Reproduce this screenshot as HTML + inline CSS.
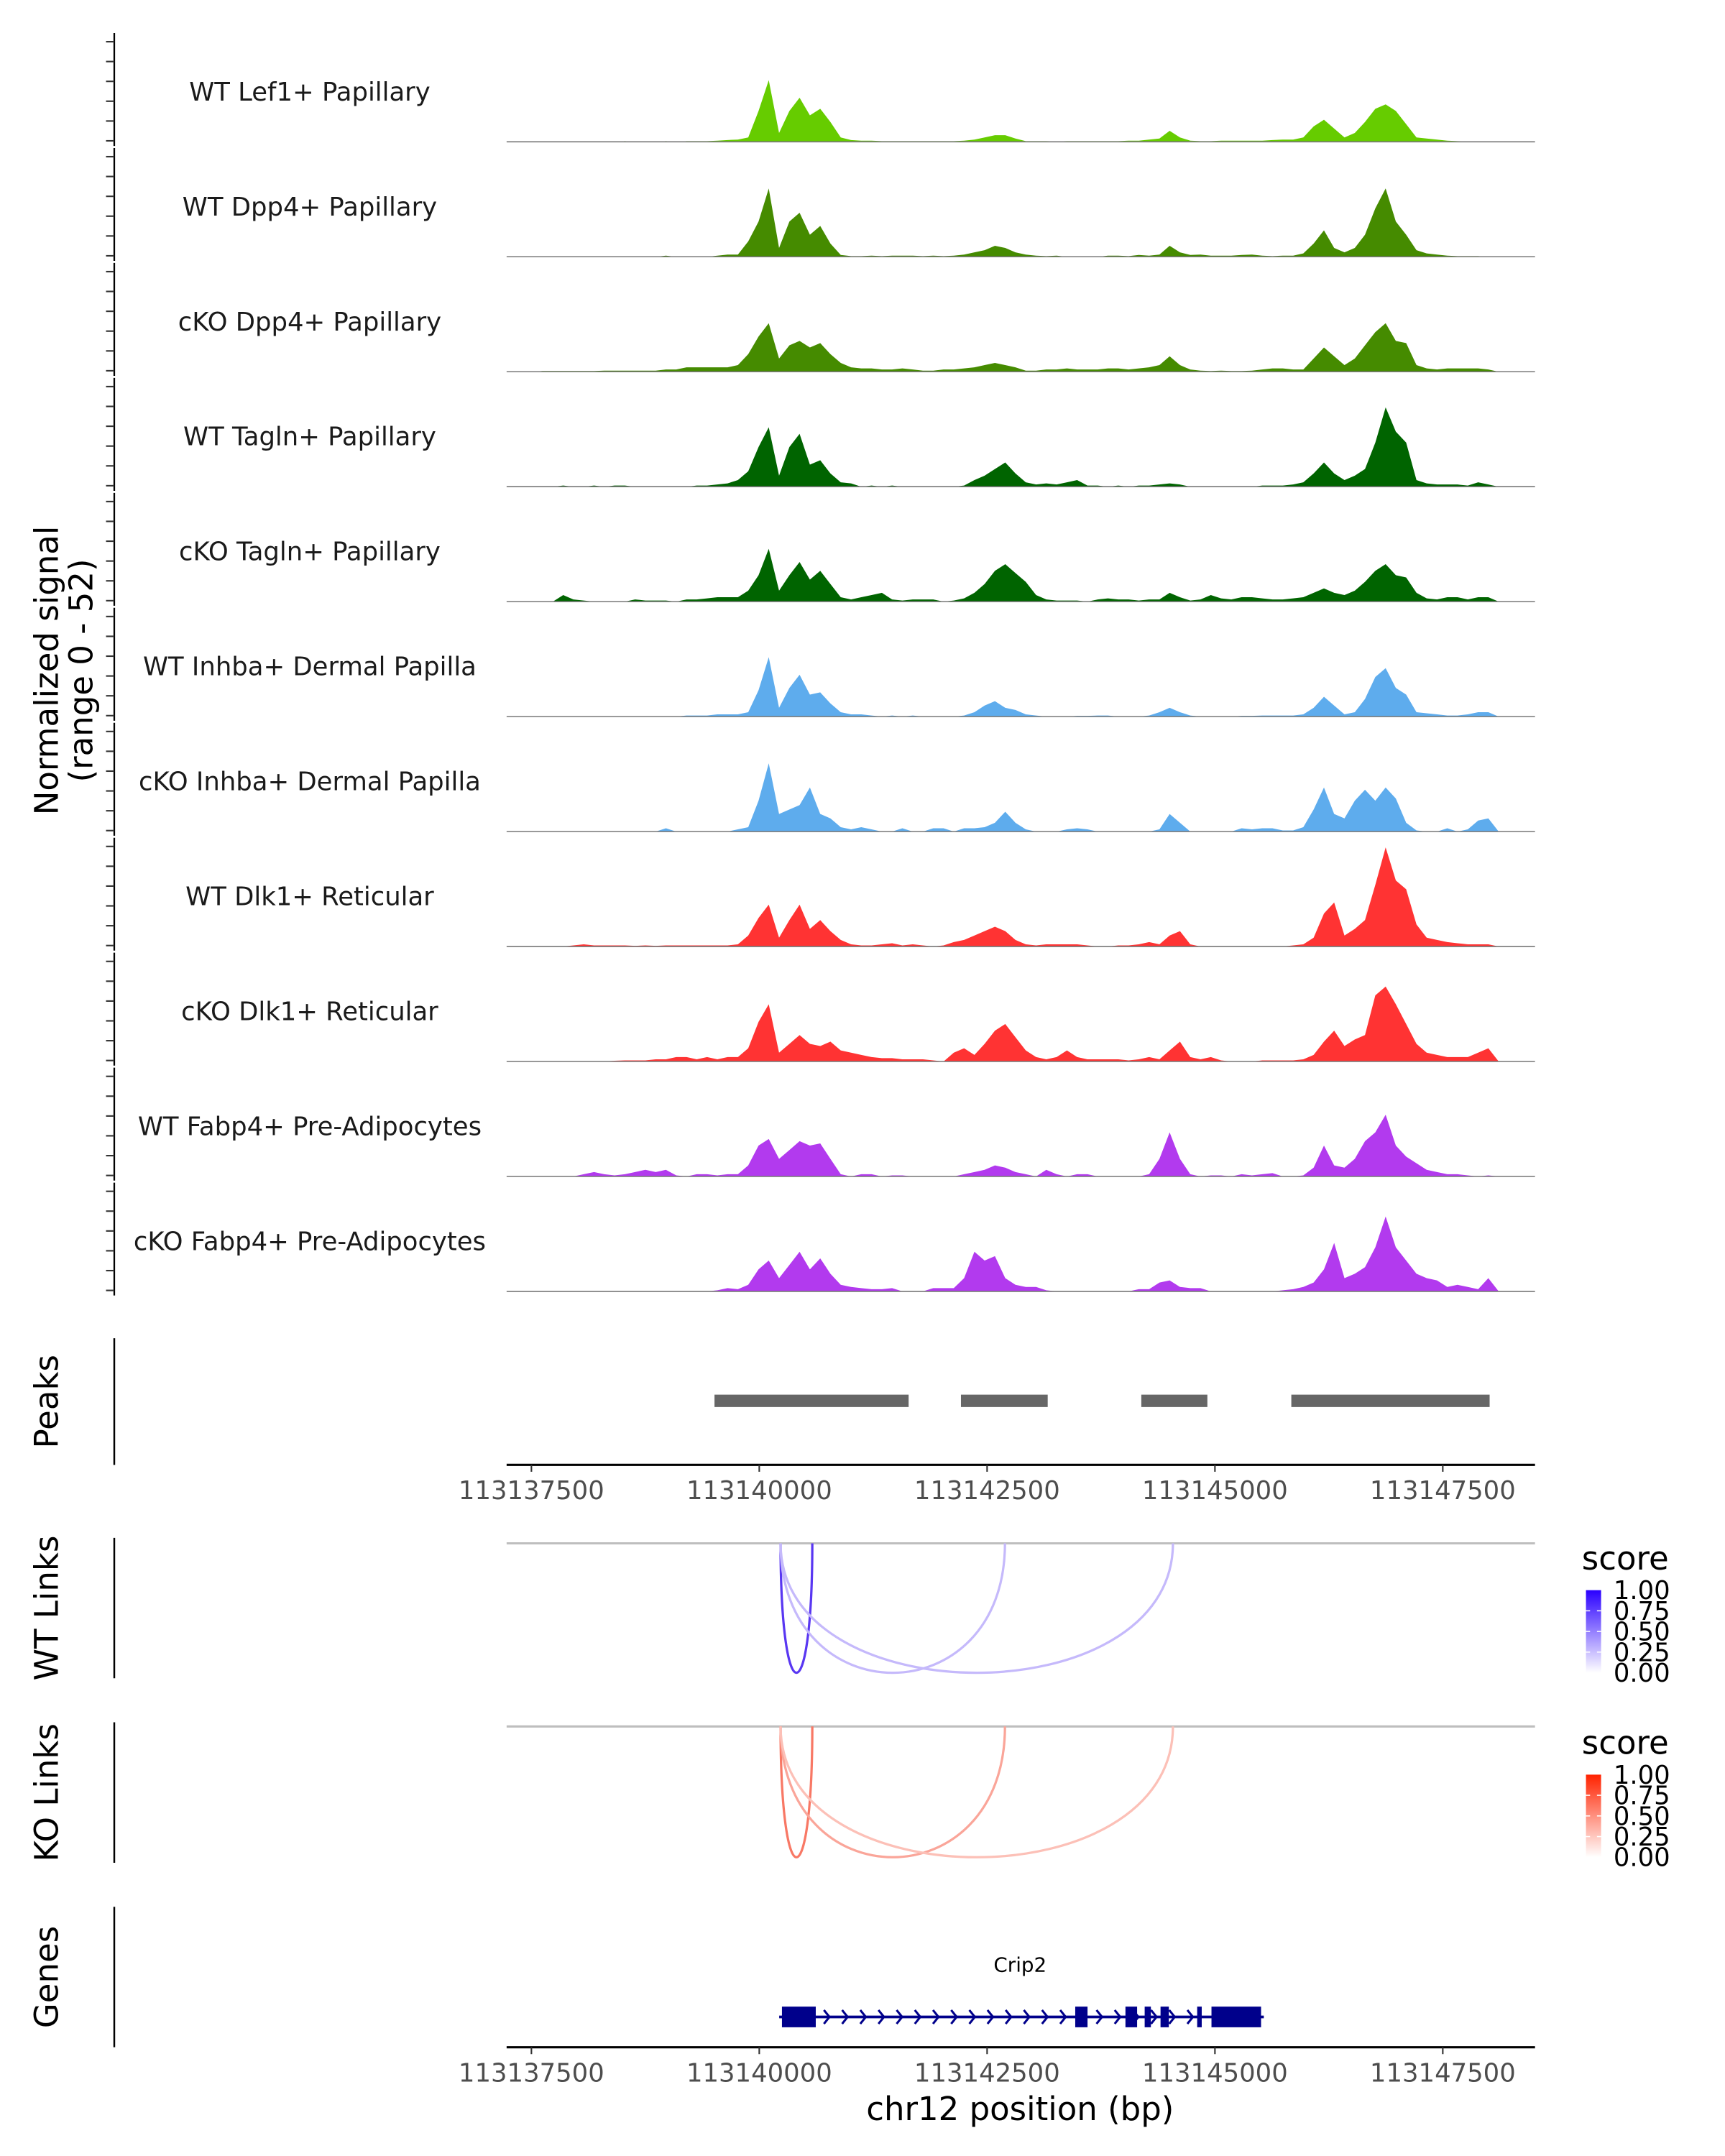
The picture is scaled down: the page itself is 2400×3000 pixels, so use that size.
<!DOCTYPE html>
<html><head><meta charset="utf-8">
<style>
html,body{margin:0;padding:0;background:#fff;}
svg{display:block;}
text{font-family:"DejaVu Sans","Liberation Sans",sans-serif;}
</style></head>
<body>
<svg id="chart" xmlns="http://www.w3.org/2000/svg" width="2400" height="3000" viewBox="0 0 1253 1566" preserveAspectRatio="none">
<defs>
<linearGradient id="gBlue" x1="0" y1="1" x2="0" y2="0"><stop offset="0" stop-color="#ffffff"/><stop offset="1" stop-color="#2a00ff"/></linearGradient>
<linearGradient id="gRed" x1="0" y1="1" x2="0" y2="0"><stop offset="0" stop-color="#ffffff"/><stop offset="1" stop-color="#ff2200"/></linearGradient>
</defs>
<g id="tracks"></g>
<g id="lower"></g>
<text transform="translate(42,487) rotate(-90)" text-anchor="middle" font-size="23.5" fill="#000">Normalized signal</text>
<text transform="translate(67,487) rotate(-90)" text-anchor="middle" font-size="23.5" fill="#000">(range 0 - 52)</text>
<text transform="translate(42,1018) rotate(-90)" text-anchor="middle" font-size="23.5">Peaks</text>
<text transform="translate(42,1168) rotate(-90)" text-anchor="middle" font-size="23.5">WT Links</text>
<text transform="translate(42,1302) rotate(-90)" text-anchor="middle" font-size="23.5">KO Links</text>
<text transform="translate(42,1436) rotate(-90)" text-anchor="middle" font-size="23.5">Genes</text>
<text x="741" y="1540" text-anchor="middle" font-size="23.5">chr12 position (bp)</text>
</svg>
<script>
const NS="http://www.w3.org/2000/svg";
// ---- data ----
const trackNames=["WT Lef1+ Papillary","WT Dpp4+ Papillary","cKO Dpp4+ Papillary","WT Tagln+ Papillary","cKO Tagln+ Papillary","WT Inhba+ Dermal Papilla","cKO Inhba+ Dermal Papilla","WT Dlk1+ Reticular","cKO Dlk1+ Reticular","WT Fabp4+ Pre-Adipocytes","cKO Fabp4+ Pre-Adipocytes"];
const trackColors=["#66cc00","#458b00","#458b00","#006400","#006400","#5eaced","#5eaced","#ff3333","#ff3333","#b23aee","#b23aee"];
const binStartBp=113137228;
const binWidthBp=112.8;
const sigLef1WT=[0,0,0,0,0,0,0,0,0,0, 0,0.3,0,0,0,0.3,0,0.3,0.3,0.3, 0.5,0.8,1,2,14,28,4,14,20,12, 15,9,2,0.8,0.5,0.5,0.3,0.3,0.3,0.3, 0.3,0.3,0.3,0.3,0.5,1,2,3,3,1.5, 0.3,0.3,0.3,0.2,0.3,0.3,0.3,0.3,0.3,0.3, 0.5,0.5,1,1.5,5,2,0.5,0.3,0.3,0.5, 0.5,0.5,0.5,0.5,0.8,1,1,2,7,10, 6,2,4,9,15,17,14,8,2,1.5, 1,0.5,0.3,0.2,0,0,0,0,0,0];
const sigDpp4WT=[0,0,0,0,0,0,0,0,0,0, 0,0,0,0,0,0.5,0,0,0,0, 0.5,1,1,7,16,31,4,16,20,10, 14,6,0.8,0.3,0.3,0.5,0.3,0.5,0.5,0.5, 0.3,0.5,0.3,0.5,1,2,3,5,4,2, 1,0.5,0.3,0.5,0,0,0,0,0.5,0.5, 0.3,0.8,0.5,1,5,2,0.8,1,0.5,0.5, 0.5,0.8,1,0.5,0.3,0.5,0.5,1.5,6,12, 4,2,4,10,22,31,16,10,3,1.5, 1,0.5,0.3,0.3,0.3,0,0,0,0,0];
const sigDpp4KO=[0,0,0,0.3,0.3,0.3,0.3,0.3,0.3,0.5, 0.5,0.5,0.5,0.5,0.5,1,1,2,2,2, 2,2,3,8,16,22,6,12,14,11, 13,8,4,2,1.5,1.5,1,1,1.5,1, 0.5,0.5,1,1,1.5,2,3,4,3,2, 0.5,0.5,1,1,1.5,1,1,1,1.5,1.5, 1,1.5,2,3,7,3,1,0.5,0.3,0.5, 0.3,0.3,0.5,1,1.5,1.5,1,1,6,11, 7,3,6,12,18,22,14,13,3,1.5, 1,1.5,1.5,1.5,1.5,1,0,0,0,0];
const sigTaglnWT=[0,0,0,0,0,0.5,0,0,0.5,0, 0.5,0.5,0,0,0,0,0,0,0.5,0.5, 1,1.5,3,7,18,27,5,18,24,10, 12,6,2,1.5,0,0.5,0,0.5,0,0, 0,0,0,0,0.5,3,5,8,11,6, 2,1,1.5,1,2,3,0.5,0.5,0,0.5, 0,0.5,0.5,1,1.5,1,0,0,0,0, 0,0,0,0.5,0.5,0.5,1,2,6,11, 6,3,5,8,20,36,25,20,3,1.5, 1,1,1,0.5,2,1,0,0,0,0];
const sigTaglnKO=[0,0,0,0,0,3,1,0.5,0,0, 0,0,1,0.5,0.5,0.5,0,1,1,1.5, 2,2,2,5,12,24,5,12,18,10, 14,8,2,1,2,3,4,1,0.5,1, 1,1,0,0.5,1.5,4,8,14,17,13, 9,3,1,0.5,0.5,0.5,0,1,1.5,1, 1,0.5,1,1,4,2,0.5,1,3,1.5, 1,2,2,1.5,1,1,1.5,2,4,6, 4,3,5,9,14,17,12,11,4,1.5, 1,2,2,1,2,2,0,0,0,0];
const sigInhbaWT=[0,0,0,0,0,0,0,0,0,0, 0,0,0,0,0,0,0,0.5,0.5,0.5, 1,1,1,2,12,27,4,13,19,10, 11,6,2,1,1,0.5,0,0.5,0,0.5, 0,0,0,0,0.5,2,5,7,4,3, 1,0.5,0,0,0,0.3,0.3,0.5,0.5,0, 0,0,0.5,2,4,2,0.5,0,0,0, 0,0.3,0.3,0.5,0.5,0.5,0.5,1,4,9, 5,1,2,8,18,22,13,10,2,1.5, 1,0.5,0.5,1,2,2,0,0,0,0];
const sigInhbaKO=[0,0,0,0,0,0,0,0,0,0, 0,0,0,0,0,1.5,0,0,0,0, 0,0,1,2,14,31,8,10,12,20, 8,6,2,1,2,1,0,0,1.5,0, 0,1.5,1.5,0,1.5,1.5,2,4,9,4, 1,0,0,0,1,1.5,1,0,0,0, 0,0,0,1,8,4,0,0,0,0, 0,1.5,1,1.5,1.5,0.5,0.5,2,10,20, 8,6,14,19,14,20,15,4,0.5,0, 0,1.5,0,1,5,6,0,0,0,0];
const sigDlk1WT=[0,0,0,0,0,0,0.5,1,0.5,0.5, 0.5,0.5,0.3,0.5,0.3,0.5,0.5,0.5,0.5,0.5, 0.5,0.5,1,5,13,19,4,12,19,8, 12,7,3,1,0.5,0.5,1,1.5,0.5,1, 0.5,0,0.5,2,3,5,7,9,7,3, 1,0.5,1,1,1,1,0.5,0,0,0.5, 0.5,1,2,1,5,7,1,0,0,0, 0,0,0,0,0,0,0.5,1,4,15, 20,5,8,12,28,45,30,26,10,4, 3,2,1.5,1,1,1,0,0,0,0];
const sigDlk1KO=[0,0,0,0,0,0,0,0,0,0, 0.3,0.5,0.5,0.5,1,1,2,2,1,2, 1,2,2,6,18,26,4,8,12,8, 7,9,5,4,3,2,1.5,1.5,1,1, 1,0.5,0,4,6,3,8,14,17,11, 5,2,1,2,5,2,1,1,1,1, 0.5,1,2,1,5,9,2,1,2,0.5, 0,0,0,0.5,0.5,0.5,0.5,1,3,9, 14,7,10,12,30,34,26,17,8,4, 3,2,2,2,4,6,0,0,0,0];
const sigFabp4WT=[0,0,0,0,0,0,0,1,2,1, 0.5,1,2,3,2,3,0.5,0,1,1, 0.5,1,1,5,14,17,8,12,16,14, 15,8,1,0,1,1,0,0.5,0.5,0, 0,0,0,0,1,2,3,5,4,2, 1,0,3,1,0,1,1,0,0,0, 0,0,1,8,20,8,1,0,0.5,0.5, 0,1,0.5,1,1.5,0,0,0.5,4,14, 5,4,8,16,20,28,14,9,6,3, 2,1,1,0.5,0,0.5,0,0,0,0];
const sigFabp4KO=[0,0,0,0,0,0,0,0,0,0, 0,0,0,0,0,0,0,0,0,0, 0.5,1.5,1,3,10,14,6,12,18,10, 15,8,3,2,1.5,1,1,1.5,0,0, 0,1.5,1.5,1.5,6,18,14,16,6,3, 2,2,0.5,0,0,0,0,0,0,0, 0,1,1,4,5,2,1.5,1.5,0,0, 0,0,0,0,0,0.5,1,2,4,10, 22,6,8,11,20,34,20,14,8,6, 5,2,3,2,1,6,0,0,0,0];
const signals=[sigLef1WT,sigDpp4WT,sigDpp4KO,sigTaglnWT,sigTaglnKO,sigInhbaWT,sigInhbaKO,sigDlk1WT,sigDlk1KO,sigFabp4WT,sigFabp4KO];
const axisTickValues=[0,9,18,27,36,45];
const xTickBp=[113137500,113140000,113142500,113145000,113147500];
const xTickLabels=["113137500","113140000","113142500","113145000","113147500"];
const peakStarts=[113139509,113142213,113144192,113145838];
const peakEnds=[113141639,113143165,113144917,113148014];
const wtLinkStarts=[113140234,113140234,113140234];
const wtLinkEnds=[113140582,113142696,113144539];
const wtLinkScores=[0.85,0.3,0.3];
const koLinkStarts=[113140234,113140234,113140234];
const koLinkEnds=[113140582,113142696,113144539];
const koLinkScores=[0.75,0.5,0.35];
const legendTicks=[1.00,0.75,0.50,0.25,0.00];
const legendTickLabels=["1.00","0.75","0.50","0.25","0.00"];
const geneStart=113140249, geneEnd=113145506;
const exonStarts=[113140249,113143467,113144018,113144229,113144403,113144805,113144962];
const exonEnds=[113140620,113143602,113144146,113144297,113144494,113144855,113145506];
// ---- scales ----
const X0=368,X1=1115,BP0=113137228,BP1=113148512;
function xs(bp){return X0+(bp-BP0)/(BP1-BP0)*(X1-X0);}
const PX_PER_UNIT=1.6;
function ys(v,base){return base-v*PX_PER_UNIT;}
function mk(tag,attrs,parent){const e=document.createElementNS(NS,tag);for(const k in attrs)e.setAttribute(k,attrs[k]);parent.appendChild(e);return e;}
const tracks=document.getElementById('tracks');
const lower=document.getElementById('lower');
const TRACK_H=83.5, BASE0=103;
for(let t=0;t<signals.length;t++){
  const base=BASE0+TRACK_H*t;
  const g=mk('g',{},tracks);
  
  
  const ax=mk('line',{x1:83,x2:83,y1:base-79,y2:base+3,stroke:'#000','stroke-width':1.2},g);
  
  
  for(const v of axisTickValues){
    const tk=mk('line',{x1:77,x2:83,y1:ys(v,base)-0.7,y2:ys(v,base)-0.7,stroke:'#333','stroke-width':1.1},g);
    
    
  }
  const lab=mk('text',{x:225,y:base-30,'text-anchor':'middle','font-size':18.5,fill:'#1a1a1a'},g);
  lab.textContent=trackNames[t];
  
  
  const arr=signals[t];
  let d='M'+X0+','+base;
  for(let i=0;i<arr.length;i++){
    const c=binStartBp+binWidthBp*(i+0.5);
    d+=' L'+xs(c).toFixed(1)+','+ys(arr[i],base).toFixed(1);
  }
  d+=' L'+X1+','+base+' Z';
  const area=mk('path',{d:d,fill:trackColors[t]},g);
  
  
  const bl=mk('line',{x1:X0,x2:X1,y1:base,y2:base,stroke:'#777','stroke-width':0.8},g);
  
  
}
function leftLine(y1,y2,name){const l=mk('line',{x1:83,x2:83,y1:y1,y2:y2,stroke:'#000','stroke-width':1.3},lower);
  
  }
leftLine(972,1064,'peaks-axis-line');leftLine(1117,1219,'wt-links-axis-line');leftLine(1251,1353,'ko-links-axis-line');leftLine(1385,1487,'genes-axis-line');
for(let i=0;i<peakStarts.length;i++){
  const r=mk('rect',{x:xs(peakStarts[i]),y:1013,width:xs(peakEnds[i])-xs(peakStarts[i]),height:9,fill:'#666'},lower);
  
  
}
function xAxis(y,name){
  const l=mk('line',{x1:X0,x2:X1,y1:y,y2:y,stroke:'#000','stroke-width':1.6},lower);
  
  
  for(let i=0;i<xTickBp.length;i++){
    const x=xs(xTickBp[i]);
    const tk=mk('line',{x1:x,x2:x,y1:y,y2:y+5,stroke:'#333','stroke-width':1.1},lower);
    
    
    const tl=mk('text',{x:x,y:y+25,'text-anchor':'middle','font-size':18.5,fill:'#4d4d4d'},lower);
    tl.textContent=xTickLabels[i];
    
    
  }
}
xAxis(1064,'peaks-x-axis');
xAxis(1487,'genes-x-axis');
function blend(c,s){return 'rgb('+[0,1,2].map(k=>Math.round(255+(c[k]-255)*s)).join(',')+')';}
function links(top,bottom,starts,ends,scores,col,name){
  const gl=mk('line',{x1:X0,x2:X1,y1:top,y2:top,stroke:'#bebebe','stroke-width':1.6},lower);
  
  
  for(let i=0;i<starts.length;i++){
    const a=xs(starts[i]),b=xs(ends[i]);
    const cy=top+(bottom-top)*4/3;
    const p=mk('path',{d:'M'+a+','+top+' C'+a+','+cy+' '+b+','+cy+' '+b+','+top,fill:'none',stroke:blend(col,scores[i]),'stroke-width':1.7},lower);
    
    
  }
}
links(1121,1215,wtLinkStarts,wtLinkEnds,wtLinkScores,[60,20,240],'wt-link');
links(1254,1349,koLinkStarts,koLinkEnds,koLinkScores,[245,75,50],'ko-link');
function legend(y0,grad,name){
  const t=mk('text',{x:1149,y:y0+16,'font-size':23.5},lower);
  t.textContent='score';
  
  
  const barTop=y0+31,barH=60;
  const r=mk('rect',{x:1152,y:barTop,width:11,height:barH,fill:'url(#'+grad+')'},lower);
  
  
  for(let i=0;i<legendTicks.length;i++){
    const y=barTop+barH*(1-legendTicks[i]);
    const tl=mk('text',{x:1172,y:y+6.5,'font-size':18.5},lower);
    tl.textContent=legendTickLabels[i];
    
    
    if(i>0&&i<legendTicks.length-1){mk('line',{x1:1152,x2:1155,y1:y,y2:y,stroke:'#fff','stroke-width':0.8},lower);mk('line',{x1:1160,x2:1163,y1:y,y2:y,stroke:'#fff','stroke-width':0.8},lower);}
  }
}
legend(1124,'gBlue','wt-legend');
legend(1258,'gRed','ko-legend');
const gy=1465;
const gname=mk('text',{x:741,y:1432,'text-anchor':'middle','font-size':14.5},lower);
gname.textContent='Crip2';


const gline=mk('line',{x1:xs(geneStart)-2,x2:xs(geneEnd)+2,y1:gy,y2:gy,stroke:'#00008b','stroke-width':2},lower);


for(let x=xs(geneStart)+33;x<xs(geneEnd)-40;x+=13.2){
  const ar=mk('path',{d:'M'+(x-2.5)+','+(gy-5)+' L'+(x+1.5)+','+gy+' L'+(x-2.5)+','+(gy+5),fill:'none',stroke:'#00008b','stroke-width':1.6},lower);
  
  
}
for(let i=0;i<exonStarts.length;i++){
  const r=mk('rect',{x:xs(exonStarts[i]),y:gy-7.5,width:Math.max(2,xs(exonEnds[i])-xs(exonStarts[i])),height:15,fill:'#00008b'},lower);
  
  
}
</script>
</body></html>
